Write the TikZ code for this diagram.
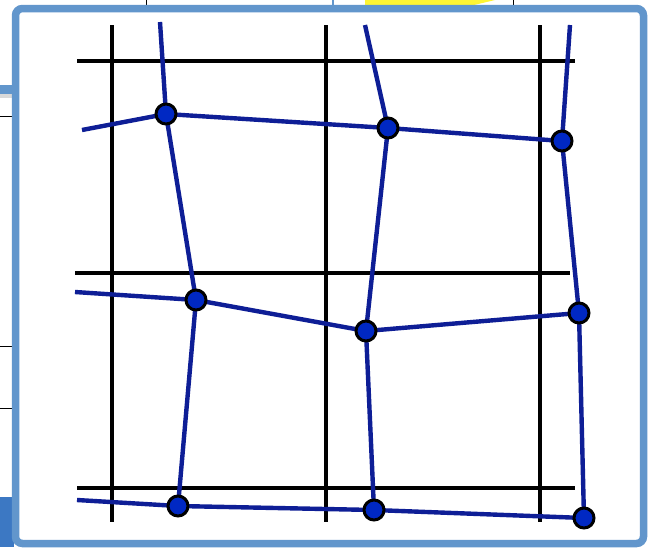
\documentclass[tikz,border=0pt]{standalone}
\begin{document}
\begin{tikzpicture}[x=1pt,y=-1pt,
  gridline/.style={line width=3.2pt,black},
  meshline/.style={line width=4.4pt,color=meshblue},
  knot/.style={circle,draw=black,line width=3pt,fill=knotblue,minimum size=20pt,inner sep=0pt}]
\definecolor{meshblue}{RGB}{14,30,150}
\definecolor{knotblue}{RGB}{0,40,195}
\definecolor{frameblue}{RGB}{98,150,204}
\definecolor{barblue}{RGB}{60,120,195}
\useasboundingbox (0,0) rectangle (651,547);
\fill[white] (0,0) rectangle (651,547);
% background fragments outside the panel
\fill[frameblue] (0,85) rectangle (14,94);
\fill[black!15] (0,94) rectangle (14,98);
\draw[line width=1pt] (0,116) -- (14,116);
\draw[line width=1pt] (0,346) -- (14,346);
\draw[line width=1pt] (0,408) -- (14,408);
\fill[barblue] (0,497) rectangle (14,547);
\draw[line width=1pt] (146,0) -- (146,5);
\fill[yellow!80] (365,0) -- (495,0) -- (470,6) -- (365,6) -- cycle;
\draw[frameblue,line width=2pt] (333,0) -- (333,6);
\draw[line width=1pt] (513,0) -- (513,6);
% panel
\draw[frameblue,line width=7.5pt,fill=white,rounded corners=7pt] (15.5,8.5) rectangle (643.5,543.5);
% black grid
\draw[gridline] (77,61) -- (575,61);
\draw[gridline] (75,273) -- (570,273);
\draw[gridline] (77,488) -- (575,488);
\draw[gridline] (112,25) -- (112,522);
\draw[gridline] (326,25) -- (326,522);
\draw[gridline] (540,25) -- (540,522);
% mesh node positions
\coordinate (a1) at (166,114);
\coordinate (a2) at (388,128);
\coordinate (a3) at (562,141);
\coordinate (b1) at (196,300);
\coordinate (b2) at (366,331);
\coordinate (b3) at (579,313);
\coordinate (c1) at (178,506);
\coordinate (c2) at (374,510);
\coordinate (c3) at (584,518);
\coordinate (la) at (82,130);
\coordinate (lb) at (75,292);
\coordinate (lc) at (77,500);
\coordinate (t1) at (160,22);
\coordinate (t2) at (365,25);
\coordinate (t3) at (570,25);
% mesh lines
\draw[meshline] (la) -- (a1) -- (a2) -- (a3);
\draw[meshline] (lb) -- (b1) -- (b2) -- (b3);
\draw[meshline] (lc) -- (c1) -- (c2) -- (c3);
\draw[meshline] (t1) -- (a1) -- (b1) -- (c1);
\draw[meshline] (t2) -- (a2) -- (b2) -- (c2);
\draw[meshline] (t3) -- (a3) -- (b3) -- (c3);
% mesh nodes on top
\foreach \n in {a1,a2,a3,b1,b2,b3,c1,c2,c3}
  \node[knot] (k\n) at (\n) {};
\end{tikzpicture}
\end{document}
